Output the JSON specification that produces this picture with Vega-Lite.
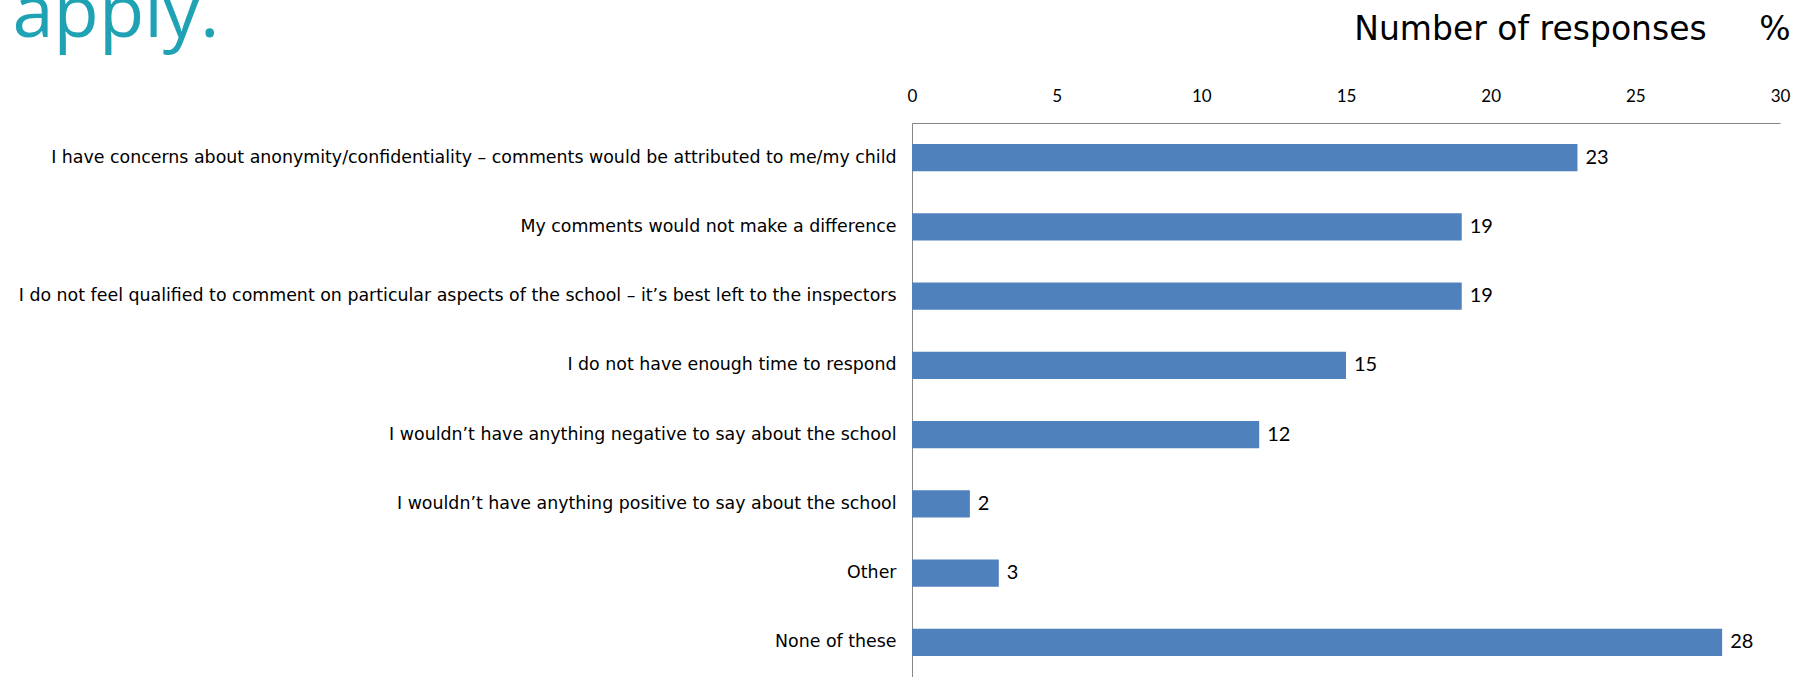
{
  "$schema": "https://vega.github.io/schema/vega-lite/v6.json",
  "autosize": {"type": "none"},
  "width": 868,
  "height": 554,
  "padding": {"left": 912, "top": 123, "right": 26, "bottom": 0},
  "background": "white",
  "data": {
    "values": [
      {"reason": "I have concerns about anonymity/confidentiality – comments would be attributed to me/my child", "responses": 23},
      {"reason": "My comments would not make a difference", "responses": 19},
      {"reason": "I do not feel qualified to comment on particular aspects of the school – it’s best left to the inspectors", "responses": 19},
      {"reason": "I do not have enough time to respond", "responses": 15},
      {"reason": "I wouldn’t have anything negative to say about the school", "responses": 12},
      {"reason": "I wouldn’t have anything positive to say about the school", "responses": 2},
      {"reason": "Other\u00a0", "responses": 3},
      {"reason": "None of these", "responses": 28}
    ]
  },
  "encoding": {
    "y": {
      "field": "reason",
      "type": "nominal",
      "sort": null,
      "scale": {"paddingInner": 0.61, "paddingOuter": 0.305},
      "axis": {
        "title": "apply.",
        "titleAngle": 0,
        "titleX": -900,
        "titleY": -87,
        "titleAlign": "left",
        "titleBaseline": "alphabetic",
        "titleFont": "Open Sans",
        "titleFontSize": 74,
        "titleFontWeight": "normal",
        "titleColor": "#1FA2B3",
        "ticks": false,
        "labelPadding": 16,
        "labelLimit": 1000,
        "labelFont": "DejaVu Sans",
        "labelFontSize": 17.4,
        "labelColor": "#000000",
        "domainColor": "#868686",
        "domainWidth": 1
      }
    },
    "x": {
      "field": "responses",
      "type": "quantitative",
      "scale": {"domain": [0, 30], "nice": false},
      "axis": {
        "orient": "top",
        "values": [0, 5, 10, 15, 20, 25, 30],
        "grid": false,
        "ticks": false,
        "labelPadding": 18,
        "labelFont": "Lato",
        "labelFontSize": 17,
        "labelColor": "#000000",
        "labelFlush": false,
        "domainColor": "#868686",
        "domainWidth": 1,
        "title": "Number of responses\u00a0\u00a0\u00a0\u00a0\u00a0%",
        "titleX": 878,
        "titleY": -84,
        "titleAlign": "right",
        "titleAnchor": null,
        "titleBaseline": "alphabetic",
        "titleFont": "DejaVu Sans",
        "titleFontSize": 33,
        "titleFontWeight": "normal",
        "titleColor": "#000000"
      }
    }
  },
  "layer": [
    {"mark": {"type": "bar", "color": "#4F81BD"}},
    {
      "mark": {"type": "text", "align": "left", "baseline": "middle", "dx": 8, "font": "Lato", "fontSize": 20, "color": "#000000"},
      "encoding": {"text": {"field": "responses", "type": "quantitative"}}
    }
  ],
  "config": {"view": {"stroke": null}}
}
